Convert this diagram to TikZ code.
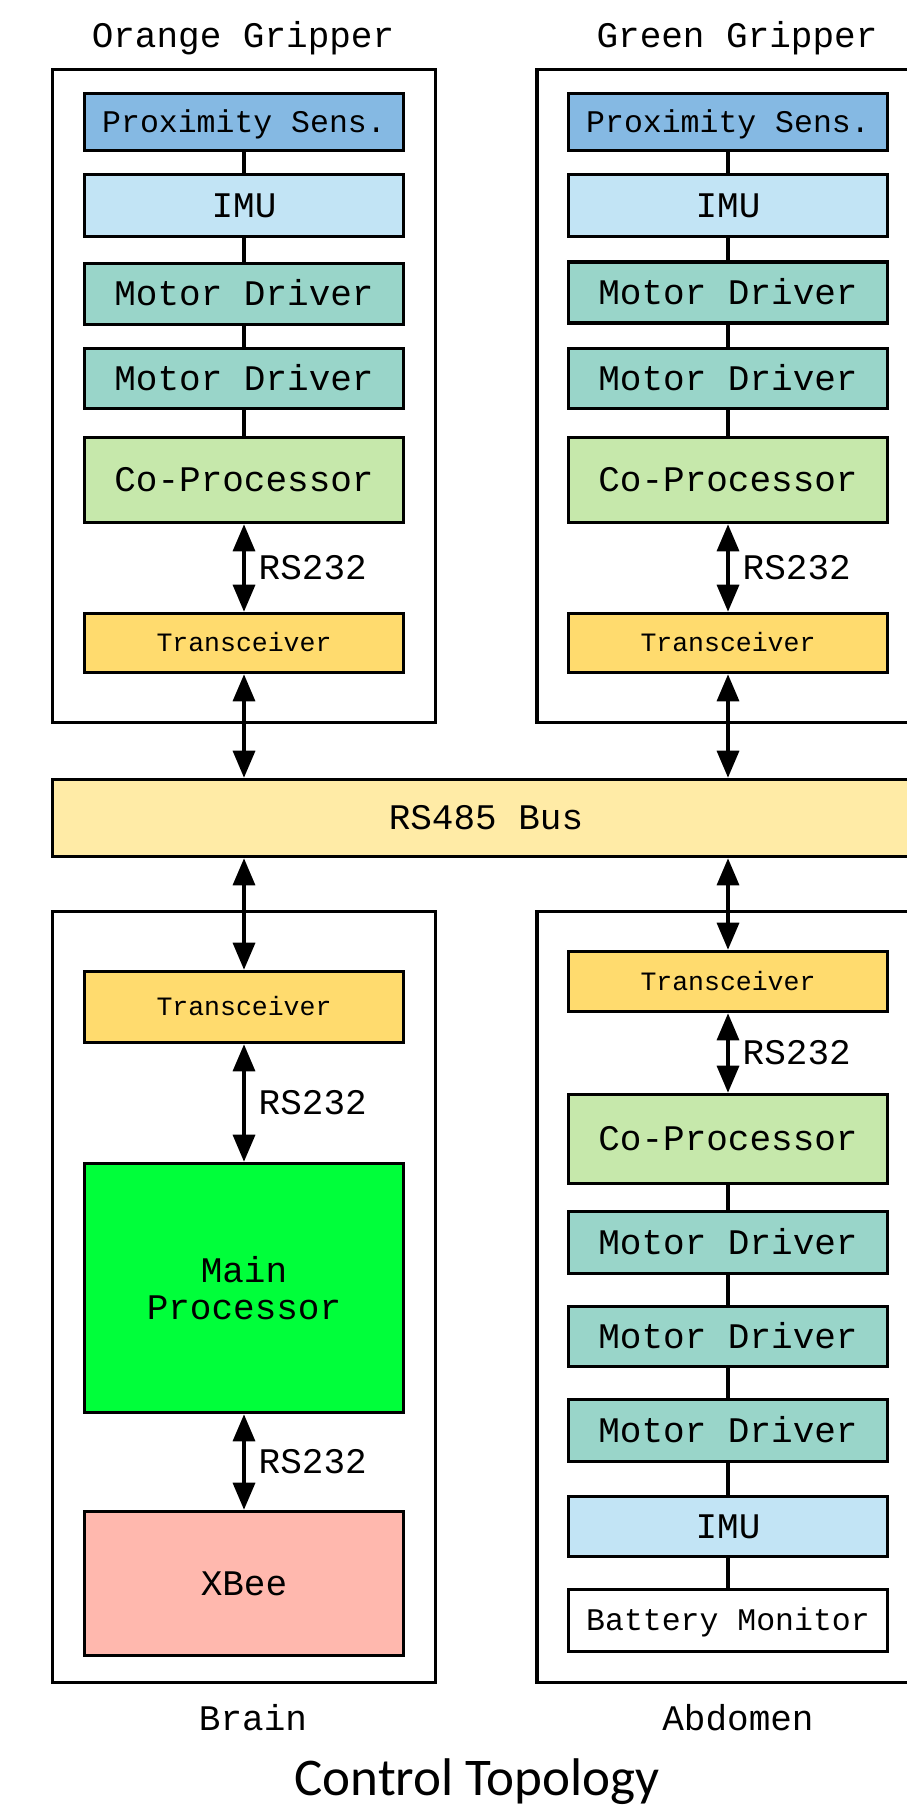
\documentclass[tikz,border=0pt]{standalone}
\usepackage{fontspec}
\setmonofont{Liberation Mono}
\newfontfamily\capfont{Carlito}
\usetikzlibrary{arrows.meta}
\definecolor{cprox}{HTML}{85B9E3}
\definecolor{cimu}{HTML}{C2E4F5}
\definecolor{cmd}{HTML}{99D5C9}
\definecolor{ccop}{HTML}{C6E8AB}
\definecolor{ctrx}{HTML}{FFDB6E}
\definecolor{cbus}{HTML}{FFEBA6}
\definecolor{cmain}{HTML}{00FF3A}
\definecolor{cxbee}{HTML}{FFB8AE}
\tikzset{
  lbl/.style={font=\ttfamily\fontsize{36}{38}\selectfont, text height=23.7pt, text depth=0pt, inner sep=0pt},
  basebox/.style={draw, line width=3.6pt, inner sep=0pt, minimum width=319pt},
  box/.style={basebox, lbl},
  smallbox/.style={box, font=\ttfamily\fontsize{31.5}{33}\selectfont, text height=20.8pt},
  trxbox/.style={box, fill=ctrx, font=\ttfamily\fontsize{26.5}{28}\selectfont, text height=17.5pt},
  frame/.style={draw, line width=3.6pt, inner sep=0pt, minimum width=383pt},
  title/.style={font=\ttfamily\fontsize{36}{38}\selectfont, inner sep=0pt, anchor=base},
  bi/.style={line width=3.4pt, {Triangle[length=27pt,width=22pt]}-{Triangle[length=27pt,width=22pt]}},
  link/.style={line width=3.4pt},
  rs/.style={lbl, anchor=west, xshift=13pt}
}
\begin{document}
\begin{tikzpicture}[x=1pt,y=-1pt]
\clip (0,0) rectangle (907,1807);
% frames
\node[frame, minimum height=653pt] (fOG) at (244,396) {};
\node[frame, minimum height=653pt] (fGG) at (728.5,396) {};
\node[frame, minimum height=771pt] (fBR) at (244,1297) {};
\node[frame, minimum height=771pt] (fAB) at (728.5,1297) {};
% titles
\node[title] (tOG) at (243,47) {Orange Gripper};
\node[title] (tGG) at (737,47) {Green Gripper};
\node[title] (tBR) at (253,1730) {Brain};
\node[title] (tAB) at (738,1730) {Abdomen};
\node[anchor=base, inner sep=0pt, font=\capfont\fontsize{53}{60}\selectfont] (ttl) at (477,1795) {Control Topology};
% bus
\node[draw, line width=3.6pt, fill=cbus, inner sep=0pt, minimum width=867pt, minimum height=77pt, lbl] (bus) at (486,818) {RS485 Bus};
% orange gripper
\node[smallbox, fill=cprox, minimum height=57pt] (oprox) at (244,122) {Proximity Sens.};
\node[box, fill=cimu, minimum height=62pt] (oimu) at (244,205.5) {IMU};
\node[box, fill=cmd, minimum height=61pt] (omd1) at (244,294) {Motor Driver};
\node[box, fill=cmd, minimum height=60pt] (omd2) at (244,378.5) {Motor Driver};
\node[box, fill=ccop, minimum height=85pt] (ocop) at (244,480) {Co-Processor};
\node[trxbox, minimum height=59pt] (otrx) at (244,643) {Transceiver};
% green gripper
\node[smallbox, fill=cprox, minimum height=57pt] (gprox) at (728,122) {Proximity Sens.};
\node[box, fill=cimu, minimum height=62pt] (gimu) at (728,205.5) {IMU};
\node[box, fill=cmd, minimum height=61pt] (gmd1) at (728,292.5) {Motor Driver};
\node[box, fill=cmd, minimum height=60pt] (gmd2) at (728,378.5) {Motor Driver};
\node[box, fill=ccop, minimum height=85pt] (gcop) at (728,480) {Co-Processor};
\node[trxbox, minimum height=59pt] (gtrx) at (728,643) {Transceiver};
% brain
\node[trxbox, minimum height=71pt] (btrx) at (244,1007) {Transceiver};
\node[basebox, fill=cmain, minimum height=249pt, align=center, font=\ttfamily\fontsize{36}{37}\selectfont] (bmain) at (244,1288) {Main\\Processor};
\node[box, fill=cxbee, minimum height=144pt] (bxbee) at (244,1583.5) {XBee};
% abdomen
\node[trxbox, minimum height=60pt] (atrx) at (728,981.5) {Transceiver};
\node[box, fill=ccop, minimum height=89pt] (acop) at (728,1139) {Co-Processor};
\node[box, fill=cmd, minimum height=62pt] (amd1) at (728,1242.5) {Motor Driver};
\node[box, fill=cmd, minimum height=60pt] (amd2) at (728,1336.5) {Motor Driver};
\node[box, fill=cmd, minimum height=62pt] (amd3) at (728,1430.5) {Motor Driver};
\node[box, fill=cimu, minimum height=60pt] (aimu) at (728,1526.5) {IMU};
\node[smallbox, fill=white, minimum height=62pt] (abat) at (728,1620.5) {Battery Monitor};
% plain links
\draw[link] (oprox) -- (oimu);
\draw[link] (oimu) -- (omd1);
\draw[link] (omd1) -- (omd2);
\draw[link] (omd2) -- (ocop);
\draw[link] (gprox) -- (gimu);
\draw[link] (gimu) -- (gmd1);
\draw[link] (gmd1) -- (gmd2);
\draw[link] (gmd2) -- (gcop);
\draw[link] (acop) -- (amd1);
\draw[link] (amd1) -- (amd2);
\draw[link] (amd2) -- (amd3);
\draw[link] (amd3) -- (aimu);
\draw[link] (aimu) -- (abat);
% RS232 arrows
\draw[bi] (ocop.south) -- node[rs] {RS232} (otrx.north);
\draw[bi] (gcop.south) -- node[rs] {RS232} (gtrx.north);
\draw[bi] (btrx.south) -- node[rs] {RS232} (bmain.north);
\draw[bi] (bmain.south) -- node[rs] {RS232} (bxbee.north);
\draw[bi] (atrx.south) -- node[rs] {RS232} (acop.north);
% bus arrows
\draw[bi] (otrx.south) -- (otrx.south |- bus.north);
\draw[bi] (gtrx.south) -- (gtrx.south |- bus.north);
\draw[bi] (btrx.north |- bus.south) -- (btrx.north);
\draw[bi] (atrx.north |- bus.south) -- (atrx.north);
\end{tikzpicture}
\end{document}
